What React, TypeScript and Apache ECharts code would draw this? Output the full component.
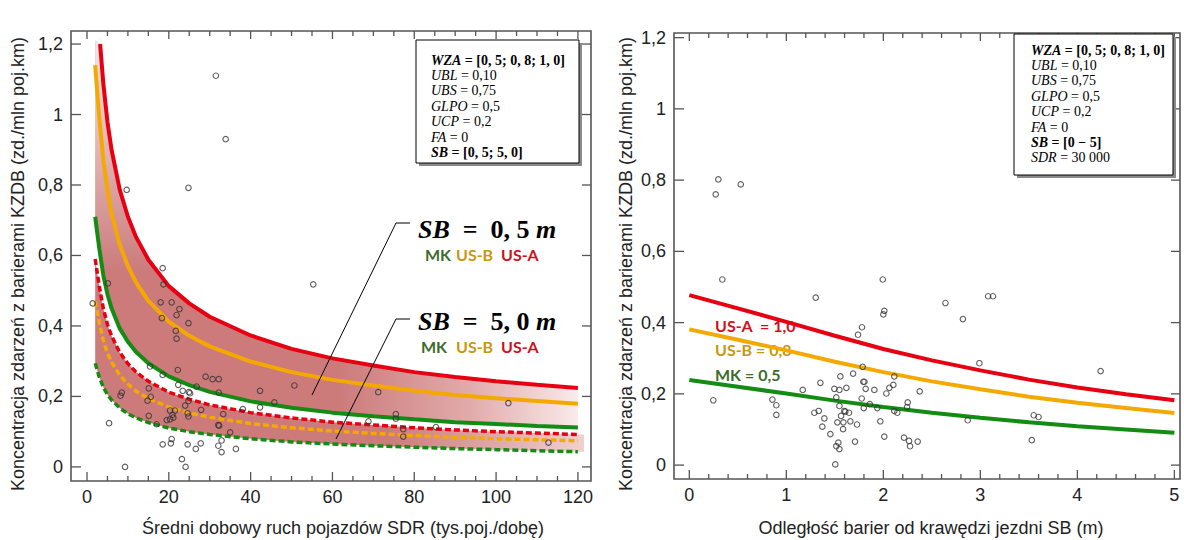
import React, { useEffect, useRef } from 'react';
import * as echarts from 'echarts';

// ---------- LEFT CHART DATA (SDR in thousands veh/day) ----------
const sdrGrid = [2, 3, 4, 5, 6, 8, 10, 12, 15, 20, 25, 30, 40, 50, 60, 70, 80, 90, 100, 110, 120];
const sdrRed05 = [3.2, 4, 5, 6, 8, 10, 12, 15, 20, 25, 30, 40, 50, 60, 70, 80, 90, 100, 110, 120];
const usA05 = [1.2, 1.087, 0.979, 0.9, 0.787, 0.71, 0.652, 0.588, 0.513, 0.464, 0.426, 0.373, 0.335, 0.308, 0.288, 0.269, 0.255, 0.243, 0.233, 0.224];
const usB05 = [1.14, 0.99, 0.87, 0.785, 0.72, 0.63, 0.57, 0.523, 0.471, 0.412, 0.372, 0.342, 0.299, 0.269, 0.247, 0.231, 0.216, 0.204, 0.195, 0.187, 0.179];
const mk05 = [0.71, 0.62, 0.543, 0.49, 0.45, 0.393, 0.355, 0.326, 0.294, 0.257, 0.232, 0.213, 0.186, 0.168, 0.154, 0.144, 0.135, 0.127, 0.122, 0.116, 0.112];
const usA50 = [0.59, 0.513, 0.449, 0.404, 0.372, 0.325, 0.293, 0.269, 0.243, 0.212, 0.192, 0.176, 0.154, 0.139, 0.127, 0.119, 0.111, 0.105, 0.1, 0.096, 0.092];
const usB50 = [0.47, 0.41, 0.359, 0.323, 0.298, 0.26, 0.235, 0.215, 0.194, 0.17, 0.153, 0.141, 0.123, 0.111, 0.102, 0.095, 0.089, 0.084, 0.08, 0.077, 0.074];
const mk50 = [0.294, 0.255, 0.226, 0.205, 0.19, 0.167, 0.151, 0.139, 0.126, 0.11, 0.1, 0.092, 0.08, 0.071, 0.065, 0.06, 0.056, 0.052, 0.049, 0.046, 0.043];
const bandTopLeft = [2, 1.21];
const bandEndSdr = 121.5;

const leftSdr = [31.5, 33.9, 9.7, 24.8, 55.3, 18.5, 18.7, 5.1, 1.4, 18.0, 20.7, 22.6, 21.9, 18.3, 24.8, 21.7, 21.9, 15.4, 22.2, 18.5, 29.0, 30.7, 32.2, 22.3, 26.8, 50.7, 15.1, 23.4, 24.9, 25.2, 32.2, 42.3, 8.5, 8.2, 15.6, 14.8, 24.8, 45.8, 24.0, 42.3, 38.1, 27.9, 20.3, 21.5, 24.6, 20.9, 33.3, 15.1, 24.8, 21.1, 19.5, 20.3, 5.4, 17.0, 32.1, 32.3, 35.0, 20.7, 18.5, 20.5, 24.6, 27.8, 32.9, 32.1, 26.6, 36.4, 32.9, 23.2, 9.3, 24.1, 71.2, 75.5, 75.5, 68.8, 77.3, 77.3, 85.3, 103.0, 112.8];
const leftKzdb = [1.11, 0.93, 0.786, 0.792, 0.518, 0.564, 0.518, 0.521, 0.464, 0.467, 0.467, 0.448, 0.431, 0.422, 0.408, 0.386, 0.364, 0.285, 0.275, 0.261, 0.256, 0.249, 0.249, 0.233, 0.228, 0.231, 0.223, 0.216, 0.212, 0.209, 0.211, 0.216, 0.211, 0.202, 0.199, 0.188, 0.187, 0.183, 0.174, 0.169, 0.164, 0.162, 0.16, 0.16, 0.152, 0.148, 0.15, 0.145, 0.143, 0.14, 0.133, 0.135, 0.124, 0.121, 0.119, 0.117, 0.098, 0.079, 0.064, 0.067, 0.064, 0.067, 0.075, 0.06, 0.051, 0.051, 0.042, 0.022, 0.0, 0.0, 0.212, 0.15, 0.137, 0.129, 0.107, 0.086, 0.113, 0.181, 0.069];

// ---------- RIGHT CHART DATA (SB in m) ----------
const sbGrid = [0, 0.5, 1, 1.5, 2, 2.5, 3, 3.5, 4, 4.5, 5];
const usARight = [0.477, 0.44, 0.402, 0.363, 0.326, 0.294, 0.266, 0.24, 0.218, 0.199, 0.182];
const usBRight = [0.381, 0.352, 0.322, 0.29, 0.261, 0.235, 0.213, 0.192, 0.175, 0.16, 0.146];
const mkRight = [0.239, 0.22, 0.201, 0.181, 0.163, 0.147, 0.133, 0.12, 0.109, 0.1, 0.091];

const rightSb = [0.272, 0.299, 0.53, 0.34, 0.247, 1.303, 1.994, 2.01, 2.0, 1.78, 1.739, 1.787, 1.794, 1.805, 1.351, 1.169, 1.557, 1.688, 1.495, 1.547, 1.619, 1.818, 1.907, 2.062, 2.103, 2.113, 2.031, 2.375, 0.856, 0.897, 0.897, 1.515, 1.547, 1.777, 1.86, 1.798, 1.938, 2.113, 2.144, 2.251, 2.244, 1.334, 1.289, 1.392, 1.371, 1.454, 1.564, 1.588, 1.526, 1.585, 1.598, 1.608, 1.646, 1.66, 1.729, 1.708, 1.969, 2.01, 1.515, 1.536, 1.547, 1.505, 2.213, 2.265, 2.275, 2.354, 2.64, 2.82, 3.08, 3.13, 2.99, 3.55, 3.6, 3.53, 4.24, 2.87];
const rightKzdb = [0.76, 0.802, 0.788, 0.521, 0.182, 0.47, 0.521, 0.433, 0.423, 0.387, 0.366, 0.276, 0.234, 0.234, 0.231, 0.211, 0.249, 0.257, 0.214, 0.211, 0.217, 0.214, 0.211, 0.217, 0.225, 0.249, 0.201, 0.207, 0.184, 0.168, 0.141, 0.19, 0.166, 0.187, 0.171, 0.16, 0.16, 0.152, 0.147, 0.176, 0.163, 0.152, 0.147, 0.131, 0.108, 0.087, 0.138, 0.12, 0.12, 0.101, 0.152, 0.15, 0.147, 0.123, 0.114, 0.066, 0.123, 0.08, 0.053, 0.063, 0.045, 0.002, 0.077, 0.068, 0.053, 0.066, 0.455, 0.41, 0.474, 0.474, 0.286, 0.14, 0.135, 0.07, 0.264, 0.126];

// ---------- TICKS ----------
const leftXTicks = [0, 20, 40, 60, 80, 100, 120];
const leftXTickLabels = ['0', '20', '40', '60', '80', '100', '120'];
const leftXMinor = [5, 10, 15, 25, 30, 35, 45, 50, 55, 65, 70, 75, 85, 90, 95, 105, 110, 115];
const yTicks = [0, 0.2, 0.4, 0.6, 0.8, 1, 1.2];
const yTickLabels = ['0', '0,2', '0,4', '0,6', '0,8', '1', '1,2'];
const rightXTicks = [0, 1, 2, 3, 4, 5];
const rightXTickLabels = ['0', '1', '2', '3', '4', '5'];
const rightXMinor = [0.2, 0.4, 0.6, 0.8, 1.2, 1.4, 1.6, 1.8, 2.2, 2.4, 2.6, 2.8, 3.2, 3.4, 3.6, 3.8, 4.2, 4.4, 4.6, 4.8];

const leftBoxLines: [string, string, boolean][] = [
  ['WZA', ' = [0, 5; 0, 8; 1, 0]', true],
  ['UBL', ' = 0,10', false],
  ['UBS', ' = 0,75', false],
  ['GLPO', ' = 0,5', false],
  ['UCP', ' = 0,2', false],
  ['FA', ' = 0', false],
  ['SB', ' = [0, 5; 5, 0]', true],
];
const rightBoxLines: [string, string, boolean][] = [
  ['WZA', ' = [0, 5; 0, 8; 1, 0]', true],
  ['UBL', ' = 0,10', false],
  ['UBS', ' = 0,75', false],
  ['GLPO', ' = 0,5', false],
  ['UCP', ' = 0,2', false],
  ['FA', ' = 0', false],
  ['SB', ' = [0 − 5]', true],
  ['SDR', ' = 30 000', false],
];

// ---------- STYLE ----------
const RED = '#e60012';
const ORANGE = '#f4a900';
const GREEN = '#148c14';
const BAND = '#cc7a7a';
const AXIS = '#555';
const SANS = '"Liberation Sans", Arial, sans-serif';
const SERIF = '"Liberation Serif", "Times New Roman", serif';
const BOLD = 'Lato, "Open Sans", sans-serif';

const LEFT_X = [-3.91, 123.2];
const LEFT_Y = [-0.04, 1.237];
const RIGHT_X = [-0.158, 5.058];
const RIGHT_Y = [-0.039, 1.213];

const pairs = (xs: number[], ys: number[]) => xs.map((x, i) => [x, ys[i]]);

function txt(text: string, x: number, y: number, extra: any = {}) {
  return {
    text,
    x,
    y,
    align: extra.align || 'left',
    textAlign: extra.align || 'left',
    verticalAlign: extra.verticalAlign || 'middle',
    textVerticalAlign: extra.verticalAlign || 'middle',
    ...extra,
  };
}

function axisDecor(gi: number, cfg: any) {
  return {
    type: 'custom',
    xAxisIndex: gi,
    yAxisIndex: gi,
    clip: false,
    silent: true,
    z: 10,
    data: [[cfg.xMajor[0], 0]],
    renderItem: (_p: any, api: any) => {
      const left = api.coord([cfg.xr[0], cfg.yr[0]])[0];
      const right = api.coord([cfg.xr[1], cfg.yr[0]])[0];
      const bottom = api.coord([cfg.xr[0], cfg.yr[0]])[1];
      const top = api.coord([cfg.xr[0], cfg.yr[1]])[1];
      const st = { stroke: AXIS, lineWidth: 1.3 };
      const ch: any[] = [];
      const ln = (x1: number, y1: number, x2: number, y2: number) =>
        ch.push({ type: 'line', shape: { x1, y1, x2, y2 }, style: st });
      cfg.xMajor.forEach((v: number, i: number) => {
        const x = api.coord([v, cfg.yr[0]])[0];
        ln(x, bottom, x, bottom - 9);
        ln(x, top, x, top + 8);
        ch.push({
          type: 'text',
          style: txt(cfg.xLabels[i], x, bottom + 7, {
            align: 'center', verticalAlign: 'top', fontSize: 18, fontFamily: SANS, fill: '#222',
          }),
        });
      });
      cfg.xMinor.forEach((v: number) => {
        const x = api.coord([v, cfg.yr[0]])[0];
        ln(x, bottom, x, bottom - 5);
        ln(x, top, x, top + 5);
      });
      cfg.yMajor.forEach((v: number, i: number) => {
        const y = api.coord([cfg.xr[0], v])[1];
        ln(left, y, left + 10, y);
        ln(right, y, right - 9, y);
        ch.push({
          type: 'text',
          style: txt(cfg.yLabels[i], left - 8, y, {
            align: 'right', verticalAlign: 'middle', fontSize: 18, fontFamily: SANS, fill: '#222',
          }),
        });
      });
      return { type: 'group', children: ch };
    },
  };
}

function bandSeries(upper: number[][], lower: number[][], stops: any[], fadeTop: boolean) {
  return {
    type: 'custom',
    xAxisIndex: 0,
    yAxisIndex: 0,
    clip: true,
    silent: true,
    z: 1,
    data: [[upper[0][0], lower[0][1]]],
    renderItem: (_p: any, api: any) => {
      const up = upper.map((p) => api.coord(p));
      const lo = lower.map((p) => api.coord(p)).reverse();
      const pts = up.concat(lo);
      const x0 = up[0][0];
      const x1 = up[up.length - 1][0];
      const children: any[] = [
        {
          type: 'polygon',
          shape: { points: pts },
          style: { fill: new echarts.graphic.LinearGradient(x0, 0, x1, 0, stops, true) },
        },
      ];
      if (fadeTop) {
        const yTop = api.coord([2, 1.21])[1];
        const yMid = api.coord([2, 0.55])[1];
        children.push({
          type: 'polygon',
          shape: { points: pts },
          style: {
            fill: new echarts.graphic.LinearGradient(0, yTop, 0, yMid, [
              { offset: 0, color: 'rgba(255,255,255,0.82)' },
              { offset: 0.45, color: 'rgba(255,255,255,0.45)' },
              { offset: 1, color: 'rgba(255,255,255,0)' },
            ], true),
          },
        });
      }
      return { type: 'group', children };
    },
  };
}

function lineSeries(gi: number, data: number[][], color: string, dashed: boolean) {
  return {
    type: 'line',
    xAxisIndex: gi,
    yAxisIndex: gi,
    data,
    symbol: 'none',
    smooth: false,
    z: 3,
    silent: true,
    lineStyle: { color, width: dashed ? 3.5 : 4, type: dashed ? [6, 3] : 'solid' },
  };
}

function scatterSeries(gi: number, data: number[][]) {
  return {
    type: 'scatter',
    xAxisIndex: gi,
    yAxisIndex: gi,
    data,
    symbol: 'circle',
    symbolSize: 5.5,
    z: 4,
    silent: true,
    itemStyle: { color: 'rgba(0,0,0,0)', borderColor: '#333', borderWidth: 1.1 },
  };
}

function boxGraphics(x: number, y: number, w: number, h: number, lines: [string, string, boolean][], tx: number, ty: number, lh: number) {
  const els: any[] = [
    { type: 'rect', z: 30, shape: { x: x + 3, y: y + 3, width: w, height: h }, style: { fill: '#8a8a8a' } },
    { type: 'rect', z: 31, shape: { x, y, width: w, height: h }, style: { fill: '#fff', stroke: '#000', lineWidth: 1 } },
  ];
  lines.forEach(([v, r, b], i) => {
    els.push({
      type: 'text',
      z: 32,
      style: txt(`{v|${v}}{r|${r}}`, tx, ty + i * lh, {
        fill: '#000',
        rich: {
          v: { fontFamily: SERIF, fontStyle: 'italic', fontWeight: b ? 'bold' : 'normal', fontSize: 14, fill: '#000' },
          r: { fontFamily: SERIF, fontWeight: b ? 'bold' : 'normal', fontSize: 14, fill: '#000' },
        },
      }),
    });
  });
  return els;
}

function sbLabel(value: string, x: number, y: number) {
  return {
    type: 'text',
    z: 25,
    style: txt(`{i|SB}{n|  =  ${value} }{i|m}`, x, y, {
      fill: '#000',
      rich: {
        i: { fontFamily: SERIF, fontStyle: 'italic', fontWeight: 'bold', fontSize: 26, fill: '#000' },
        n: { fontFamily: SERIF, fontWeight: 'bold', fontSize: 26, fill: '#000' },
      },
    }),
  };
}

function tripleLabel(xs: number[], y: number) {
  const words = ['MK', 'US-B', 'US-A'];
  const cols = ['#3d6b2a', '#c9960f', '#d0101c'];
  return words.map((w, i) => ({
    type: 'text',
    z: 25,
    style: txt(w, xs[i], y, { font: `bold 16px ${BOLD}`, fill: cols[i] }),
  }));
}

const App: React.FC = () => {
  const ref = useRef<HTMLDivElement>(null);
  useEffect(() => {
    if (!ref.current) return;
    const chart = echarts.init(ref.current, undefined, { renderer: 'svg' });
    const gridStyle = { show: true, borderColor: AXIS, borderWidth: 1.6, backgroundColor: 'transparent' };
    const upperBandTop = [bandTopLeft, ...pairs(sdrRed05, usA05)];
    const upperBandBottom = pairs(sdrGrid, mk05);
    const lowerBandTop = [...pairs(sdrGrid, usA50), [bandEndSdr, usA50[usA50.length - 1]]];
    const lowerBandBottom = [...pairs(sdrGrid, mk50), [bandEndSdr, mk50[mk50.length - 1]]];

    const option: any = {
      animation: false,
      backgroundColor: '#fff',
      grid: [
        { left: 71, top: 31, width: 520, height: 450, ...gridStyle },
        { left: 674, top: 33, width: 506, height: 446, ...gridStyle },
      ],
      xAxis: [
        { type: 'value', gridIndex: 0, min: LEFT_X[0], max: LEFT_X[1], show: false },
        { type: 'value', gridIndex: 1, min: RIGHT_X[0], max: RIGHT_X[1], show: false },
      ],
      yAxis: [
        { type: 'value', gridIndex: 0, min: LEFT_Y[0], max: LEFT_Y[1], show: false },
        { type: 'value', gridIndex: 1, min: RIGHT_Y[0], max: RIGHT_Y[1], show: false },
      ],
      series: [
        bandSeries(upperBandTop, upperBandBottom, [
          { offset: 0, color: BAND },
          { offset: 0.5, color: BAND },
          { offset: 0.78, color: '#e2abab' },
          { offset: 1, color: '#faeaea' },
        ], true),
        bandSeries(lowerBandTop, lowerBandBottom, [
          { offset: 0, color: BAND },
          { offset: 0.6, color: BAND },
          { offset: 1, color: '#f0d0d0' },
        ], false),
        scatterSeries(0, pairs(leftSdr, leftKzdb)),
        lineSeries(0, pairs(sdrGrid, mk50), GREEN, true),
        lineSeries(0, pairs(sdrGrid, usB50), ORANGE, true),
        lineSeries(0, pairs(sdrGrid, usA50), RED, true),
        lineSeries(0, pairs(sdrGrid, mk05), GREEN, false),
        lineSeries(0, pairs(sdrGrid, usB05), ORANGE, false),
        lineSeries(0, pairs(sdrRed05, usA05), RED, false),
        scatterSeries(1, pairs(rightSb, rightKzdb)),
        lineSeries(1, pairs(sbGrid, mkRight), GREEN, false),
        lineSeries(1, pairs(sbGrid, usBRight), ORANGE, false),
        lineSeries(1, pairs(sbGrid, usARight), RED, false),
        axisDecor(0, { xr: LEFT_X, yr: LEFT_Y, xMajor: leftXTicks, xLabels: leftXTickLabels, xMinor: leftXMinor, yMajor: yTicks, yLabels: yTickLabels }),
        axisDecor(1, { xr: RIGHT_X, yr: RIGHT_Y, xMajor: rightXTicks, xLabels: rightXTickLabels, xMinor: rightXMinor, yMajor: yTicks, yLabels: yTickLabels }),
      ],
      graphic: [
        // axis titles
        { type: 'text', x: 18, y: 264, rotation: Math.PI / 2, z: 5, style: txt('Koncentracja zdarzeń z barierami KZDB (zd./mln poj.km)', 0, 0, { align: 'center', font: `18px ${SANS}`, fill: '#222' }) },
        { type: 'text', x: 626, y: 264, rotation: Math.PI / 2, z: 5, style: txt('Koncentracja zdarzeń z barierami KZDB (zd./mln poj.km)', 0, 0, { align: 'center', font: `18px ${SANS}`, fill: '#222' }) },
        { type: 'text', z: 5, style: txt('Średni dobowy ruch pojazdów SDR (tys.poj./dobę)', 343, 528, { align: 'center', font: `18px ${SANS}`, fill: '#222' }) },
        { type: 'text', z: 5, style: txt('Odległość barier od krawędzi jezdni SB (m)', 931, 528, { align: 'center', font: `18px ${SANS}`, fill: '#222' }) },
        // left annotations
        sbLabel('0, 5', 418, 229),
        ...tripleLabel([425, 456, 501], 254),
        sbLabel('5, 0', 418, 321),
        ...tripleLabel([421, 456, 501], 346),
        { type: 'polyline', z: 25, shape: { points: [[410, 223], [396, 223], [312, 395]] }, style: { stroke: '#000', lineWidth: 1, fill: 'none' } },
        { type: 'polyline', z: 25, shape: { points: [[410, 319], [396, 319], [336, 439]] }, style: { stroke: '#000', lineWidth: 1, fill: 'none' } },
        // right labels (under the lines)
        { type: 'text', z: 0, style: txt('US-A  = 1,0', 715, 325, { font: `bold 16px ${BOLD}`, fill: '#d0101c' }) },
        { type: 'text', z: 0, style: txt('US-B = 0,8', 715, 349, { font: `bold 16px ${BOLD}`, fill: '#c9960f' }) },
        { type: 'text', z: 0, style: txt('MK = 0,5', 715, 374, { font: `bold 16px ${BOLD}`, fill: '#3d6b2a' }) },
        ...boxGraphics(416, 40, 163, 123, leftBoxLines, 431, 60, 15.4),
        ...boxGraphics(1014, 34, 159, 141, rightBoxLines, 1031, 50, 15.4),
      ],
    };
    chart.setOption(option);
    return () => chart.dispose();
  }, []);
  return (
    <div
      ref={ref}
      style={{ position: 'fixed', left: 0, top: 0, width: 1184, height: 540, background: '#fff' }}
    />
  );
};

export default App;
